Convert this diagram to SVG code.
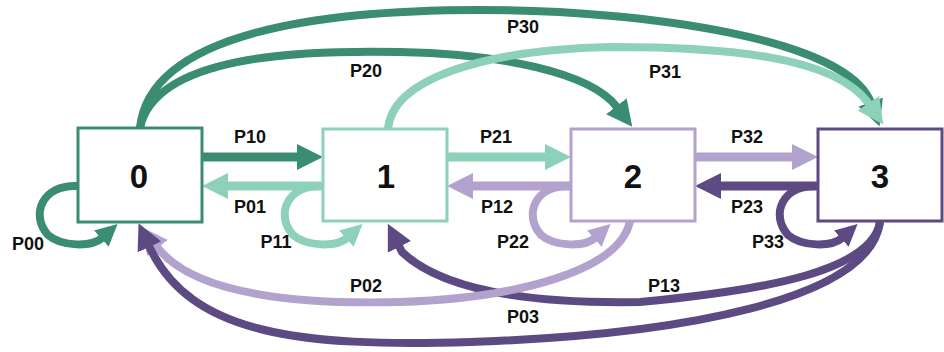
<svg xmlns="http://www.w3.org/2000/svg" width="944" height="352" viewBox="0 0 944 352">
<style>
.box{fill:#fff;stroke-width:3}
.num{font-family:"Liberation Sans",Arial,sans-serif;font-weight:bold;font-size:33px;text-anchor:middle;fill:#111}
.lbl{font-family:"Liberation Sans",Arial,sans-serif;font-weight:bold;font-size:18px;text-anchor:middle;fill:#111}
.c{fill:none;stroke-width:8;stroke-linejoin:round}
.h{fill:none;stroke-width:9}
.dg{stroke:#3a8c72}.mt{stroke:#8dd1b9}.lp{stroke:#b3a2cd}.dp{stroke:#5d4a82}
</style>
<defs>
<marker id="bDG" viewBox="0 -13 26 26" refX="1" refY="0" markerWidth="26" markerHeight="26" markerUnits="userSpaceOnUse" orient="auto"><path d="M0,-13 L26,0 L0,13 z" fill="#3a8c72"/></marker>
<marker id="bMT" viewBox="0 -13 26 26" refX="1" refY="0" markerWidth="26" markerHeight="26" markerUnits="userSpaceOnUse" orient="auto"><path d="M0,-13 L26,0 L0,13 z" fill="#8dd1b9"/></marker>
<marker id="bLP" viewBox="0 -13 26 26" refX="1" refY="0" markerWidth="26" markerHeight="26" markerUnits="userSpaceOnUse" orient="auto"><path d="M0,-13 L26,0 L0,13 z" fill="#b3a2cd"/></marker>
<marker id="bDP" viewBox="0 -13 26 26" refX="1" refY="0" markerWidth="26" markerHeight="26" markerUnits="userSpaceOnUse" orient="auto"><path d="M0,-13 L26,0 L0,13 z" fill="#5d4a82"/></marker>
<marker id="sDG" viewBox="0 -11 22 22" refX="1" refY="0" markerWidth="22" markerHeight="22" markerUnits="userSpaceOnUse" orient="auto"><path d="M0,-11 L22,0 L0,11 z" fill="#3a8c72"/></marker>
<marker id="sMT" viewBox="0 -11 22 22" refX="1" refY="0" markerWidth="22" markerHeight="22" markerUnits="userSpaceOnUse" orient="auto"><path d="M0,-11 L22,0 L0,11 z" fill="#8dd1b9"/></marker>
<marker id="sLP" viewBox="0 -11 22 22" refX="1" refY="0" markerWidth="22" markerHeight="22" markerUnits="userSpaceOnUse" orient="auto"><path d="M0,-11 L22,0 L0,11 z" fill="#b3a2cd"/></marker>
<marker id="sDP" viewBox="0 -11 22 22" refX="1" refY="0" markerWidth="22" markerHeight="22" markerUnits="userSpaceOnUse" orient="auto"><path d="M0,-11 L22,0 L0,11 z" fill="#5d4a82"/></marker>
</defs>
<g id="connectors">
<path class="c dg" d="M140,128 C150,30 330,10 480,10 C650,10 848,40 871,103" marker-end="url(#bDG)"/>
<path class="c dg" d="M140,128 C155,55 300,50 400,52 C500,54 590,72 617,107" marker-end="url(#bDG)"/>
<path class="c mt" d="M388,129 C392,80 480,50 610,47 C720,47 835,55 869,104" marker-end="url(#bMT)"/>
<path class="h dg" d="M202,157 H298" marker-end="url(#bDG)"/>
<path class="h mt" d="M323,186 H227" marker-end="url(#bMT)"/>
<path class="h mt" d="M447,157 H546" marker-end="url(#bMT)"/>
<path class="h lp" d="M571,186 H472" marker-end="url(#bLP)"/>
<path class="h lp" d="M695,157 H793" marker-end="url(#bLP)"/>
<path class="h dp" d="M818,186 H720" marker-end="url(#bDP)"/>
<path class="c dg" d="M78,186 C42,184 30,215 48,235 C62,247 92,247 102,238" marker-end="url(#sDG)"/>
<path class="c mt" d="M323,186 C287,184 275,215 293,235 C307,247 337,247 347,238" marker-end="url(#sMT)"/>
<path class="c lp" d="M571,186 C535,184 523,215 541,235 C555,247 585,247 595,238" marker-end="url(#sLP)"/>
<path class="c dp" d="M818,186 C782,184 770,215 788,235 C802,247 832,247 842,238" marker-end="url(#sDP)"/>
<path class="c dp" d="M880,222 C872,270 770,290 640,302 C520,304 440,288 402,252 L399,246" marker-end="url(#bDP)"/>
<path class="c lp" d="M630,221 C620,270 520,298 400,302 C280,305 190,290 157,247" marker-end="url(#bLP)"/>
<path class="c dp" d="M880,222 C870,300 680,335 470,342 C300,347 190,335 149,246" marker-end="url(#bDP)"/>
<text class="lbl" x="250" y="143">P10</text>
<text class="lbl" x="250" y="213">P01</text>
<text class="lbl" x="28" y="250">P00</text>
<text class="lbl" x="276" y="248">P11</text>
<text class="lbl" x="496" y="143">P21</text>
<text class="lbl" x="497" y="213">P12</text>
<text class="lbl" x="513" y="248">P22</text>
<text class="lbl" x="747" y="143">P32</text>
<text class="lbl" x="747" y="213">P23</text>
<text class="lbl" x="768" y="248">P33</text>
<text class="lbl" x="366" y="77">P20</text>
<text class="lbl" x="523" y="33">P30</text>
<text class="lbl" x="665" y="78">P31</text>
<text class="lbl" x="366" y="292">P02</text>
<text class="lbl" x="664" y="292">P13</text>
<text class="lbl" x="523" y="323">P03</text>
</g>
<g id="node0"><rect class="box" x="78" y="128" width="124" height="94" stroke="#3a8c72"/><text class="num" x="139" y="188">0</text></g>
<g id="node1"><rect class="box" x="323" y="129" width="124" height="92" stroke="#8dd1b9"/><text class="num" x="386" y="188">1</text></g>
<g id="node2"><rect class="box" x="571" y="129" width="124" height="92" stroke="#b3a2cd"/><text class="num" x="633" y="188">2</text></g>
<g id="node3"><rect class="box" x="818" y="129" width="124" height="92" stroke="#5d4a82"/><text class="num" x="880" y="188">3</text></g>
</svg>
